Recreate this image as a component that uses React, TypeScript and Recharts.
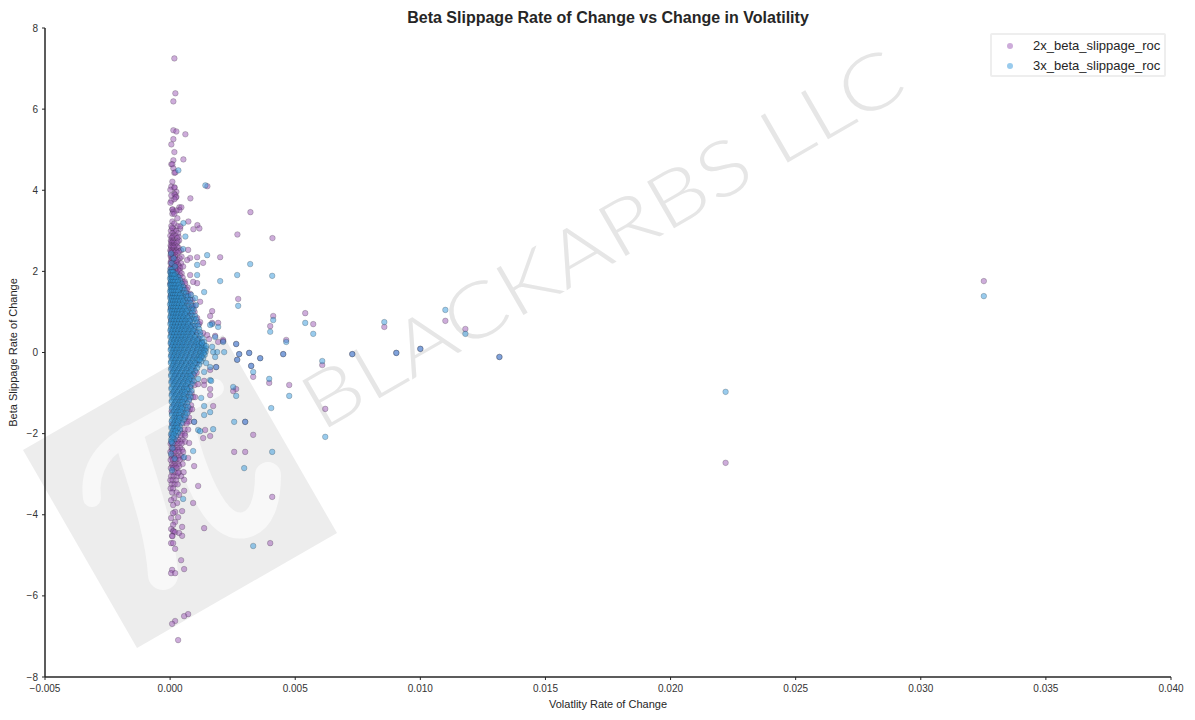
import {
  ScatterChart,
  Scatter,
  XAxis,
  YAxis,
  Legend,
} from 'recharts';

// x values are written in units of 1e-5 to keep the lists short
const beta2xSparse: [number, number][] = [
  [17, 7.25], [21, 6.39], [13, 6.19], [13, 5.48], [25, 5.45], [61, 5.38], [13, 5.26], [5, 5.13], [17, 4.94],
  [53, 4.76], [13, 4.74], [5, 4.64], [9, 4.64], [13, 4.54], [17, 4.43], [21, 4.44], [9, 4.21], [149, 4.1],
  [5, 4.09], [17, 4.06], [18, 4.07], [1, 4.01], [25, 3.96], [17, 3.91], [19, 3.89], [5, 3.87], [25, 3.84],
  [23, 3.82], [81, 3.8], [17, 3.78], [5, 3.74], [1, 3.69], [37, 3.58], [45, 3.58], [9, 3.52], [10, 3.53],
  [37, 3.51], [25, 3.5], [13, 3.47], [9, 3.42], [17, 3.42], [29, 3.31], [321, 3.46], [9, 3.23], [73, 3.23],
  [17, 3.18], [109, 3.14], [41, 3.11], [8, 3.07], [117, 3.06], [93, 3.04], [269, 2.91], [409, 2.82],
  [72, 2.53], [80, 2.33], [68, 2.28], [200, 2.35], [108, 2.35], [132, 2.21], [80, 1.91], [108, 1.71], [92, 1.74],
  [272, 1.32], [120, 1.25], [88, 1.1], [168, 1.02], [160, 0.9], [120, 0.75], [168, 0.73], [192, 0.73], [540, 0.97],
  [572, 0.7], [856, 0.63], [1100, 0.78], [1180, 0.58], [400, 0.65], [412, 0.9], [132, 0.48], [148, 0.43], [180, 0.41],
  [156, 0.33], [192, 0.26], [212, 0.28], [212, 0.31], [464, 0.31], [264, 0.21], [3252, 1.76],
  [452, -0.04], [316, -0.01], [276, -0.04], [360, -0.14], [268, -0.18], [728, -0.04], [904, -0.01], [1000, 0.09],
  [1316, -0.11], [608, -0.31], [324, -0.33], [184, -0.36], [160, -0.43], [332, -0.6], [396, -0.75], [476, -0.8],
  [112, -0.78], [136, -0.7], [136, -0.8], [160, -0.9], [160, -1.05], [264, -0.9], [252, -0.95], [172, -1.32],
  [620, -1.39], [96, -1.71], [300, -1.71], [140, -1.91], [160, -2.06], [132, -2.11], [332, -2.03], [76, -2.23],
  [256, -2.45], [300, -2.45], [72, -2.6], [96, -2.8], [2220, -2.72], [112, -3.29], [408, -3.56], [92, -3.71],
  [136, -4.33], [400, -4.7], [32, -2.97], [56, -3.14], [56, -3.41], [36, -3.51], [16, -3.59], [4, -3.64], [28, -3.71],
  [12, -3.76], [48, -3.91], [20, -3.93], [12, -3.96], [32, -4.06], [4, -4.08], [20, -4.18], [12, -4.25], [48, -4.3],
  [4, -4.35], [12, -4.4], [14, -4.41], [20, -4.43], [36, -4.45], [8, -4.52], [9, -4.53], [48, -4.52], [4, -4.7],
  [12, -4.7], [20, -4.84], [44, -5.12], [56, -5.34], [8, -5.36], [4, -5.44], [20, -5.44], [72, -6.45], [56, -6.5],
  [20, -6.62], [8, -6.69], [32, -7.09],
];

const beta2xRows: [number, number[]][] = [
  [3.12, [5, 30]], [3.05, [12, 40]], [3.0, [3, 17, 24]], [2.94, [9, 32]],
  [2.88, [1, 14, 22]], [2.85, [10, 34]], [2.82, [7, 28]], [2.76, [3, 12, 36]], [2.73, [5, 12, 30]],
  [2.7, [7, 16, 26]], [2.64, [2, 11, 20]], [2.61, [4, 13, 28]], [2.58, [6, 15, 34]],
  [2.52, [1, 10, 25, 44]], [2.49, [3, 13, 24, 36]], [2.46, [5, 18, 30]], [2.4, [2, 12, 22]],
  [2.36, [3, 12, 20, 46]], [2.32, [7, 16, 38]], [2.28, [6, 22, 30]], [2.24, [3, 12, 26]], [2.2, [2, 14, 24, 44]],
  [2.16, [8, 18, 32]], [2.12, [6, 18, 36, 52]], [2.08, [2, 14, 24, 40]], [2.04, [10, 20, 32]],
  [2.0, [2, 12, 24, 38]], [1.95, [6, 28, 46]], [1.9, [40]], [1.85, [6, 18, 32, 50]], [1.75, [50, 58]], [1.7, [1, 12, 26, 44, 60]],
  [1.6, [58, 70]], [1.55, [7, 20, 36, 52, 66]], [1.45, [72, 80]], [1.4, [2, 14, 30, 48, 66]], [1.3, [82, 90]],
  [1.25, [8, 24, 42, 60, 74]], [1.15, [92, 100]], [1.1, [3, 18, 36, 56, 72]], [1.0, [98]], [0.95, [10, 28, 48, 68, 84]],
  [0.85, [108]], [0.8, [4, 20, 40, 62, 82]], [0.7, [116]], [0.65, [12, 32, 54, 76, 96]], [0.5, [5, 24, 46, 70, 90, 104]],
  [0.35, [14, 36, 60, 84, 112]], [0.2, [6, 28, 52, 80, 104, 124]], [0.05, [18, 44, 72, 100, 132]], [-0.1, [8, 34, 62, 92, 124]],
  [-0.25, [20, 48, 78, 108]], [-0.4, [10, 36, 66, 94]], [-0.5, [106]], [-0.55, [24, 52, 82, 96]], [-0.7, [12, 40, 68, 88]],
  [-0.8, [98]], [-0.85, [28, 56, 80]], [-1.0, [14, 42, 66, 86]], [-1.1, [92, 100]], [-1.15, [30, 54, 76]], [-1.3, [16, 40, 62, 84]],
  [-1.4, [80, 88]], [-1.45, [6, 30, 52, 74]], [-1.6, [20, 42, 60, 76]], [-1.7, [68, 76]], [-1.75, [8, 30, 50, 66]],
  [-1.9, [18, 38, 58, 72]], [-2.0, [48, 58]], [-2.05, [6, 26, 44, 60]], [-2.15, [14, 32, 50]], [-2.2, [6, 16, 28, 42, 60]],
  [-2.25, [2, 10, 20, 34, 46]], [-2.35, [6, 15, 28, 40]], [-2.4, [8, 18, 32, 48]],
  [-2.45, [1, 11, 22, 36, 52]], [-2.55, [5, 16, 30, 44]], [-2.6, [8, 20, 34, 52]],
  [-2.65, [2, 12, 24, 38]], [-2.75, [7, 18, 32, 50]], [-2.8, [10, 22, 36]], [-2.85, [3, 13, 26]],
  [-2.95, [8, 20, 34, 54]], [-3.05, [4, 14, 28, 44]],
  [-3.15, [1, 10, 24]], [-3.25, [6, 18, 30]], [-3.35, [2, 12]], [-3.45, [8, 26]],
];

const beta3xSparse: [number, number][] = [
  [33, 4.49], [141, 4.12], [53, 3.19], [61, 2.86], [52, 2.55], [148, 2.4], [320, 2.18], [108, 2.16], [268, 1.91],
  [408, 1.89], [108, 1.91], [200, 1.76], [136, 1.49], [84, 1.42], [100, 1.34], [104, 1.17], [272, 1.15], [1100, 1.05],
  [412, 0.8], [856, 0.75], [540, 0.73], [168, 0.7], [160, 0.68], [192, 0.63], [400, 0.51], [572, 0.46], [1180, 0.46],
  [180, 0.38], [212, 0.26], [464, 0.26], [128, 0.23], [264, 0.21], [144, 0.16], [168, 0.14], [3252, 1.39],
  [188, 0.01], [216, 0.01], [172, 0.01], [316, -0.01], [276, -0.04], [452, -0.04], [728, -0.04], [904, -0.01], [1000, 0.09],
  [1316, -0.11], [180, -0.11], [360, -0.14], [268, -0.18], [608, -0.21], [144, -0.26], [324, -0.33], [160, -0.36], [184, -0.36],
  [136, -0.48], [332, -0.48], [112, -0.65], [396, -0.65], [160, -0.68], [164, -0.7], [252, -0.85], [264, -1.07], [476, -1.07],
  [124, -1.12], [136, -1.32], [404, -1.37], [160, -1.47], [136, -1.54], [96, -1.71], [256, -1.71], [300, -1.71], [172, -1.89],
  [112, -1.91], [120, -1.94], [620, -2.08], [92, -2.43], [408, -2.45], [56, -2.58], [296, -2.85], [52, -3.61], [2220, -0.97],
  [332, -4.77], [6, 2.2], [14, 2.32], [4, 2.44], [20, 2.12], [10, -2.36], [4, -2.5], [18, -2.62], [8, -2.9],
];

const beta3xRows: [number, number[]][] = [
  [2.05, [2, 8]], [1.98, [0, 6, 12]], [1.9, [3, 10, 18]], [1.82, [0, 7, 14, 24]], [1.74, [3, 11, 19, 30]],
  [1.66, [0, 6, 14, 22, 34]], [1.58, [3, 10, 18, 27, 38]], [1.5, [0, 7, 15, 23, 32]], [1.42, [4, 12, 20, 29, 40]],
  [1.34, [1, 8, 16, 25, 35, 46]], [1.26, [4, 12, 21, 30, 40, 52]], [1.18, [0, 8, 17, 26, 36, 48]], [1.1, [4, 13, 22, 32, 44, 58]],
  [1.02, [1, 9, 18, 28, 38, 50, 66]], [0.94, [5, 14, 24, 34, 46, 60]], [0.86, [1, 10, 20, 30, 42, 54, 70]],
  [0.78, [5, 15, 26, 37, 49, 62, 78]], [0.7, [1, 10, 21, 32, 44, 57, 72]], [0.62, [5, 16, 27, 39, 52, 66, 82]],
  [0.54, [1, 11, 22, 34, 47, 60, 76, 92]], [0.46, [6, 17, 29, 42, 55, 70, 86]], [0.38, [1, 12, 24, 37, 50, 64, 80, 98]],
  [0.3, [6, 18, 31, 44, 58, 74, 92, 108]], [0.22, [2, 13, 26, 39, 53, 68, 84, 102, 116]], [0.14, [7, 20, 33, 47, 62, 78, 96, 112, 128]],
  [0.06, [2, 14, 27, 41, 56, 72, 90, 108, 124, 138]], [-0.02, [8, 21, 35, 50, 66, 84, 102, 120, 134]],
  [-0.1, [3, 15, 29, 44, 60, 78, 96, 114, 126]], [-0.18, [9, 23, 38, 54, 72, 90, 106, 118]], [-0.26, [3, 16, 31, 47, 64, 82, 98]],
  [-0.34, [10, 25, 41, 57, 74, 90]], [-0.42, [4, 18, 34, 50, 66, 84]], [-0.5, [11, 27, 43, 60, 76]], [-0.58, [4, 19, 36, 52, 68, 82]],
  [-0.66, [12, 28, 45, 62, 76]], [-0.74, [5, 20, 37, 53, 70]], [-0.82, [13, 29, 46, 62]], [-0.9, [5, 21, 38, 55, 68]],
  [-0.98, [13, 30, 47, 60]], [-1.06, [6, 22, 38, 54]], [-1.14, [14, 30, 46, 58]], [-1.22, [6, 22, 38, 50]], [-1.3, [14, 30, 44]],
  [-1.38, [7, 23, 38, 48]], [-1.46, [15, 30, 42]], [-1.54, [7, 22, 36]], [-1.62, [14, 28, 38]], [-1.7, [6, 20, 32]],
  [-1.78, [13, 26]], [-1.86, [5, 18, 30]], [-1.94, [11, 22]], [-2.02, [4, 14]], [-2.1, [9]], [-2.2, [5]],
];

// the packed core of the 3x cloud, between the rows above
const beta3xCore: [number, number[]][] = [
  [1.94, [5, 14, 22]], [1.86, [2, 9, 17, 26, 34]], [1.78, [5, 13, 22, 31, 40]], [1.7, [2, 9, 17, 26, 36, 46]],
  [1.62, [5, 13, 22, 31, 42, 52]], [1.54, [2, 9, 18, 27, 37, 48, 58]], [1.46, [5, 14, 24, 34, 44, 54, 64]],
  [1.38, [2, 10, 20, 30, 41, 52, 64, 72]], [1.3, [6, 16, 26, 36, 47, 58, 70, 80]], [1.22, [2, 11, 22, 33, 44, 56, 68, 82]],
  [1.14, [6, 16, 28, 39, 50, 62, 74, 88]], [1.06, [2, 12, 24, 35, 46, 58, 70, 84, 94]], [0.98, [7, 18, 30, 42, 54, 66, 78, 90]],
  [0.9, [2, 13, 25, 37, 50, 62, 76, 88, 100]], [0.82, [7, 19, 31, 44, 56, 68, 84, 96, 104]], [0.74, [3, 14, 26, 39, 52, 66, 80, 92, 108]],
  [0.66, [8, 20, 33, 46, 59, 72, 88, 100, 112]], [0.58, [3, 15, 28, 41, 55, 69, 84, 98, 116]], [0.5, [8, 21, 35, 49, 63, 78, 94, 108, 120]],
  [0.42, [3, 15, 29, 44, 58, 73, 90, 106, 122]], [0.34, [9, 23, 37, 52, 67, 84, 100, 116, 130]], [0.26, [3, 16, 30, 46, 60, 76, 94, 110, 126, 136]],
  [0.18, [10, 24, 40, 55, 70, 88, 106, 122, 136]], [0.1, [4, 17, 32, 48, 64, 82, 100, 118, 134, 144]], [0.02, [10, 26, 42, 58, 76, 94, 112, 130, 142]],
  [-0.06, [4, 18, 34, 50, 68, 86, 106, 124, 138]], [-0.14, [11, 26, 42, 60, 80, 100, 118, 132]], [-0.22, [4, 18, 36, 54, 72, 92, 110, 124]],
  [-0.3, [12, 28, 46, 64, 84, 102, 116]], [-0.38, [5, 20, 38, 56, 74, 94, 108]], [-0.46, [13, 30, 48, 68, 86, 100]],
  [-0.54, [5, 22, 40, 58, 78, 92]], [-0.62, [14, 32, 50, 70, 88]], [-0.7, [6, 24, 42, 62, 80, 94]], [-0.78, [15, 34, 52, 72, 86]],
  [-0.86, [6, 24, 44, 64, 80]], [-0.94, [16, 36, 54, 72, 86]], [-1.02, [7, 26, 46, 64, 78]], [-1.1, [17, 36, 54, 70, 82]],
  [-1.18, [7, 26, 46, 62, 76]], [-1.26, [18, 36, 54, 68]], [-1.34, [8, 26, 44, 60, 72]], [-1.42, [18, 36, 52, 66]],
  [-1.5, [8, 26, 44, 58, 68]], [-1.58, [18, 34, 50, 62]], [-1.66, [8, 26, 42, 54]], [-1.74, [16, 32, 46]], [-1.82, [6, 24, 38]],
  [-1.9, [14, 28, 40]], [-1.98, [6, 20, 32]], [-2.06, [12, 24]], [-2.14, [4, 18]], [-2.24, [9]],
];

const xTicks = [-0.005, 0, 0.005, 0.01, 0.015, 0.02, 0.025, 0.03, 0.035, 0.04];
const yTicks = [-8, -6, -4, -2, 0, 2, 4, 6, 8];

const FONT = '"Liberation Sans", Arial, sans-serif';
const INK = '#262626';

const toPoints = (sparse: [number, number][], rows: [number, number[]][]) => [
  ...rows.flatMap(([y, xs]) => xs.map((x) => ({ x: x * 1e-5, y }))),
  ...sparse.map(([x, y]) => ({ x: x * 1e-5, y })),
];

const data2x = toPoints(beta2xSparse, beta2xRows);
const data3x = toPoints(beta3xSparse, [...beta3xCore, ...beta3xRows]);

const minus = (s: string) => s.replace('-', '\u2212');

function Marker({ cx, cy, fill }: any) {
  return (
    <circle
      cx={cx}
      cy={cy}
      r={2.8}
      fill={fill}
      fillOpacity={0.5}
      stroke="#1a1a1a"
      strokeOpacity={0.42}
      strokeWidth={0.5}
    />
  );
}

function Watermark() {
  return (
    <svg width={1195} height={720} style={{ position: 'absolute', left: 0, top: 0 }}>
      <polygon points="23,450 137,648 337,533 223,335" fill="#ededed" />
      <g fill="none" stroke="#f8f8f8" strokeLinecap="round">
        <path d="M92 498 C88 468 104 446 135 432 L215 388" strokeWidth={18} />
        <path d="M130 440 C145 490 160 530 163 575" strokeWidth={30} />
        <path d="M178 412 C192 470 214 532 245 525 C262 521 268 500 268 475" strokeWidth={26} />
      </g>
      <text
        x={321}
        y={432}
        transform="rotate(-30 321 432)"
        fontFamily="Lato, sans-serif"
        fontWeight={300}
        fontSize={76}
        fill="#e6e6e6"
        textLength={680}
        lengthAdjust="spacingAndGlyphs"
      >
        BLACKARBS LLC
      </text>
    </svg>
  );
}

function LegendBox({ payload }: any) {
  return (
    <div
      style={{
        width: 172,
        height: 40,
        border: '2px solid #eeeeee',
        borderRadius: 2,
        boxSizing: 'content-box',
        fontFamily: FONT,
        fontSize: 13,
        color: INK,
      }}
    >
      {(payload ?? []).map((item: any) => (
        <div key={item.value} style={{ display: 'flex', alignItems: 'center', height: 19, paddingTop: 1 }}>
          <span
            style={{
              width: 6,
              height: 6,
              marginLeft: 15,
              marginRight: 20,
              borderRadius: 3,
              background: item.color,
              opacity: 0.5,
            }}
          />
          {item.value}
        </div>
      ))}
    </div>
  );
}

export default function App() {
  return (
    <div style={{ position: 'absolute', left: 0, top: 0, width: 1195, height: 720, background: '#fff' }}>
      <Watermark />
      <div style={{ position: 'absolute', left: 0, top: 0 }}>
        <ScatterChart width={1195} height={720} margin={{ top: 28, right: 24, bottom: 13, left: 15 }}>
          <XAxis
            type="number"
            dataKey="x"
            domain={[-0.005, 0.04]}
            ticks={xTicks}
            interval={0}
            height={30}
            tickSize={3}
            tickMargin={5}
            tickLine={{ stroke: INK }}
            axisLine={{ stroke: INK, strokeWidth: 1.5 }}
            tick={{ fill: '#333', fontSize: 10, fontFamily: FONT }}
            tickFormatter={(v: number) => minus(v === 0 ? '0.000' : v.toFixed(3))}
            label={{
              value: 'Volatlity Rate of Change',
              position: 'insideBottom',
              offset: -1,
              style: { fill: INK, fontSize: 11, fontFamily: FONT },
            }}
          />
          <YAxis
            type="number"
            dataKey="y"
            domain={[-8, 8]}
            ticks={yTicks}
            interval={0}
            width={30}
            tickSize={3}
            tickMargin={4}
            tickLine={{ stroke: INK }}
            axisLine={{ stroke: INK, strokeWidth: 1.5 }}
            tick={{ fill: '#333', fontSize: 10, fontFamily: FONT }}
            tickFormatter={(v: number) => minus(String(v))}
            label={{
              value: 'Beta Slippage Rate of Change',
              angle: -90,
              position: 'insideLeft',
              offset: -2,
              style: { textAnchor: 'middle', fill: INK, fontSize: 11, fontFamily: FONT },
            }}
          />
          <Legend
            layout="horizontal"
            verticalAlign="middle"
            align="center"
            content={<LegendBox />}
            wrapperStyle={{ position: 'absolute', left: 990, top: 33, width: 176, height: 44 }}
          />
          <Scatter
            name="2x_beta_slippage_roc"
            data={data2x}
            fill="#9b59b6"
            shape={<Marker />}
            isAnimationActive={false}
          />
          <Scatter
            name="3x_beta_slippage_roc"
            data={data3x}
            fill="#3498db"
            shape={<Marker />}
            isAnimationActive={false}
          />
          <text
            x={608}
            y={23}
            textAnchor="middle"
            fontFamily={FONT}
            fontWeight="bold"
            fontSize={16}
            fill={INK}
          >
            Beta Slippage Rate of Change vs Change in Volatility
          </text>
        </ScatterChart>
      </div>
    </div>
  );
}
